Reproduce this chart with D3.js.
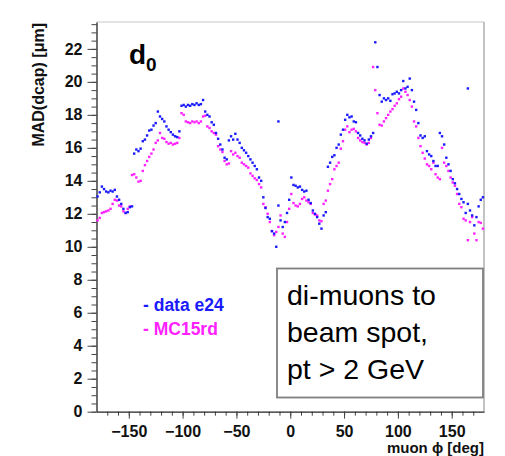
<!DOCTYPE html>
<html>
<head>
<meta charset="utf-8">
<script src="https://cdn.jsdelivr.net/npm/d3@7"></script>
<style>
  body { margin: 0; background: #fff; }
  text { font-family: "Liberation Sans", Arial, sans-serif; }
</style>
</head>
<body>
<svg width="505" height="456"></svg>
<script>
// bin centres of muon phi (2 degree bins)
const phiBins = d3.range(-179, 180, 2);

// MAD(dcap) for data e24, one value per bin
const dataE24 = [
  13.05, 13.3, 13.65, 13.5, 13.35, 13.3, 13.4, 13.35, 13.45, 13.05,
  12.85, 12.6, 12.3, 12.05, 12.1, 12.4, 12.45, 15.65, 15.9, 15.8,
  15.95, 16.4, 16.5, 16.75, 17.05, 17.1, 17.35, 17.5, 18.2, 17.9,
  17.75, 17.6, 17.3, 17.1, 16.95, 16.8, 16.7, 16.65, 17.0, 18.55,
  18.6, 18.5, 18.6, 18.55, 18.65, 18.6, 18.7, 18.6, 18.65, 18.9,
  18.2, 18.0, 17.9, 17.55, 17.4, 16.9, 16.55, 16.2, 15.9, 15.4,
  15.3, 16.45, 16.7, 16.5, 16.85, 16.5, 16.3, 16.0, 15.85, 15.7,
  15.5, 15.3, 15.1, 14.9, 14.7, 14.2, 14.0, 13.0, 12.35, 11.8,
  11.7, 10.95, 10.8, 10.0, 12.5, 11.6, 11.2, 11.5, 12.05, 12.85,
  14.2, 13.75, 13.7, 13.6, 13.65, 13.45, 13.35, 13.4, 12.85, 12.65,
  12.2, 12.0, 11.8, 11.4, 11.1, 11.9, 12.1, 14.85, 15.1, 15.45,
  15.55, 16.0, 16.2, 16.8, 17.1, 17.7, 18.0, 17.85, 17.9, 17.6,
  17.55, 16.9, 16.75, 16.55, 16.45, 16.25, 16.5, 16.7, 16.9, 22.4,
  20.9, 19.2, 18.8, 19.0, 18.9, 19.0, 18.85, 19.25, 19.3, 19.4,
  19.3, 19.5, 20.05, 19.6, 19.7, 20.2, 19.5, 18.8, 18.3, 17.5,
  16.75, 16.6, 16.7, 15.8, 15.6, 15.5, 15.2, 14.9, 14.9, 16.9,
  16.7, 16.2, 15.4, 15.0, 14.6, 14.1, 13.85, 13.5, 13.2, 12.9,
  12.7, 12.05, 12.6, 12.2, 11.9, 11.3, 11.8, 12.45, 12.85, 13.0
];

// MAD(dcap) for MC15rd, one value per bin
const mc15rd = [
  11.6, 11.75, 12.05, 12.1, 12.15, 12.2, 12.3, 12.6, 12.85, 12.8,
  12.5, 12.45, 12.15, 12.05, 12.3, 12.45, 14.35, 14.4, 14.2, 13.95,
  14.0, 14.6, 14.95, 15.2, 15.45, 15.65, 15.9, 16.3, 16.45, 16.9,
  16.6, 16.55, 16.35, 16.25, 16.3, 16.2, 16.25, 16.3, 16.6, 18.1,
  18.0, 17.6, 17.55, 17.5, 17.6, 17.55, 17.6, 17.5, 17.6, 17.9,
  17.95, 17.3, 17.2, 17.0, 16.9, 16.8, 16.1, 15.9, 15.75, 15.2,
  15.0, 15.05, 15.8, 15.6, 15.7, 15.5, 15.4, 15.1, 15.0, 14.9,
  14.8, 14.45, 14.3, 14.15, 14.05, 13.8, 13.6, 12.6, 12.4, 12.0,
  11.5, 10.95, 10.7, 10.9, 11.2, 11.9, 10.8, 10.6, 11.5, 12.3,
  13.2, 12.65, 12.5, 12.45, 12.6, 12.9, 13.0, 12.8, 12.7, 12.6,
  12.05, 11.95, 11.9, 11.6, 11.55, 12.6, 12.8, 13.4, 13.8, 14.1,
  14.7, 14.9, 15.1, 15.95, 16.4, 17.1, 17.3, 16.95, 17.1, 17.15,
  17.0, 16.6, 16.45, 16.35, 16.3, 16.2, 16.3, 16.6, 20.9, 19.5,
  18.1, 17.4, 17.35, 17.6, 17.8, 18.0, 18.2, 18.35, 18.55, 18.7,
  18.95, 19.1, 19.6, 19.4, 19.2, 18.9, 18.5, 17.6, 17.3, 16.6,
  16.1, 15.7, 15.35, 15.0, 14.9, 14.7, 15.1, 14.4, 14.2, 14.1,
  16.0, 15.1, 14.9, 14.6, 14.2, 13.9, 13.7, 13.2, 12.6, 12.4,
  11.7, 11.6, 10.4, 11.5, 11.8, 10.8, 10.4, 11.5, 11.45, 11.1
];

// a few isolated data points away from the curve
const outlierPhi = [-11, 165];
const outlierVal = [17.6, 19.6];

const yMajor = d3.range(0, 23, 2);
const xMajor = [-150, -100, -50, 0, 50, 100, 150];
const boxLines = ['di-muons to', 'beam spot,', 'pt > 2 GeV'];

const svg = d3.select('svg');

const x = d3.scaleLinear().domain([-180, 180]).range([96.5, 484]);
const y = d3.scaleLinear().domain([0, 23.63]).range([411.7, 22]);

// light frame on top / right
svg.append('line').attr('x1', 96.5).attr('x2', 484).attr('y1', 22).attr('y2', 22)
  .attr('stroke', '#d8d8d8').attr('stroke-width', 1.5);
svg.append('line').attr('x1', 484).attr('x2', 484).attr('y1', 22).attr('y2', 411.7)
  .attr('stroke', '#b0b0b0').attr('stroke-width', 1.5);

// y axis: minor then major
svg.append('g').attr('transform', 'translate(96.5,0)')
  .call(d3.axisLeft(y).tickValues(d3.range(0, 23.6, 0.5)).tickSize(5).tickFormat(''))
  .call(g => g.select('.domain').remove())
  .selectAll('line').attr('stroke', '#444');
const yAxis = svg.append('g').attr('transform', 'translate(96.5,0)')
  .call(d3.axisLeft(y).tickValues(yMajor).tickSize(9).tickPadding(5).tickSizeOuter(0));
yAxis.select('.domain').attr('stroke', '#222').attr('stroke-width', 1.3);
yAxis.selectAll('line').attr('stroke', '#444');
yAxis.selectAll('text').attr('font-size', 16).attr('font-weight', 'bold')
  .attr('fill', '#111').attr('font-family', '"Liberation Sans", Arial, sans-serif');

// x axis
svg.append('g').attr('transform', 'translate(0,411.7)')
  .call(d3.axisBottom(x).tickValues(d3.range(-170, 180, 10)).tickSize(4).tickFormat(''))
  .call(g => g.select('.domain').remove())
  .selectAll('line').attr('stroke', '#444');
const xAxis = svg.append('g').attr('transform', 'translate(0,411.7)')
  .call(d3.axisBottom(x).tickValues(xMajor).tickSize(7).tickPadding(7).tickSizeOuter(0));
xAxis.select('.domain').attr('stroke', '#222').attr('stroke-width', 1.3);
xAxis.selectAll('line').attr('stroke', '#444');
xAxis.selectAll('text').attr('font-size', 16).attr('font-weight', 'bold')
  .attr('fill', '#111').attr('font-family', '"Liberation Sans", Arial, sans-serif');

// axis titles
svg.append('text')
  .attr('transform', 'translate(44,23) rotate(-90)')
  .attr('text-anchor', 'end')
  .attr('font-size', 16).attr('font-weight', 'bold').attr('fill', '#111')
  .text('MAD(dcap) [\u03bcm]');
svg.append('text')
  .attr('x', 484).attr('y', 453)
  .attr('text-anchor', 'end')
  .attr('font-size', 15).attr('font-weight', 'bold').attr('fill', '#111')
  .text('muon \u03d5 [deg]');

// markers
function drawSeries(vals, color) {
  svg.append('g').selectAll('rect')
    .data(vals)
    .enter()
    .append('rect')
    .attr('x', (d, i) => x(phiBins[i]) - 1.2)
    .attr('y', d => y(d) - 1.2)
    .attr('width', 2.4)
    .attr('height', 2.4)
    .attr('fill', color);
}
drawSeries(mc15rd, '#ff22ff');
drawSeries(dataE24, '#1a1aff');

svg.append('g').selectAll('rect')
  .data(outlierVal)
  .enter()
  .append('rect')
  .attr('x', (d, i) => x(outlierPhi[i]) - 1.2)
  .attr('y', d => y(d) - 1.2)
  .attr('width', 2.4).attr('height', 2.4)
  .attr('fill', '#1a1aff');

// d0 label
const dLabel = svg.append('text').attr('x', 129).attr('y', 64)
  .attr('font-size', 28).attr('font-weight', 'bold').attr('fill', '#000');
dLabel.append('tspan').text('d');
dLabel.append('tspan').attr('font-size', 19).attr('dy', 7).text('0');

// legend
svg.append('text').attr('x', 143).attr('y', 311)
  .attr('font-size', 17.5).attr('font-weight', 'bold').attr('fill', '#1a1aff')
  .text('- data e24');
svg.append('text').attr('x', 143).attr('y', 335)
  .attr('font-size', 17.5).attr('font-weight', 'bold').attr('fill', '#ff22ff')
  .text('- MC15rd');

// text box
svg.append('rect')
  .attr('x', 277).attr('y', 268.5).attr('width', 206).attr('height', 129)
  .attr('fill', '#fff').attr('stroke', '#7f7f7f').attr('stroke-width', 1.8);
svg.append('g').selectAll('text')
  .data(boxLines)
  .enter()
  .append('text')
  .attr('x', 287)
  .attr('y', (d, i) => 305 + i * 37.2)
  .attr('font-family', 'Lato, "Open Sans", sans-serif')
  .attr('font-size', 28.5)
  .attr('fill', '#000')
  .text(d => d);
</script>
</body>
</html>
